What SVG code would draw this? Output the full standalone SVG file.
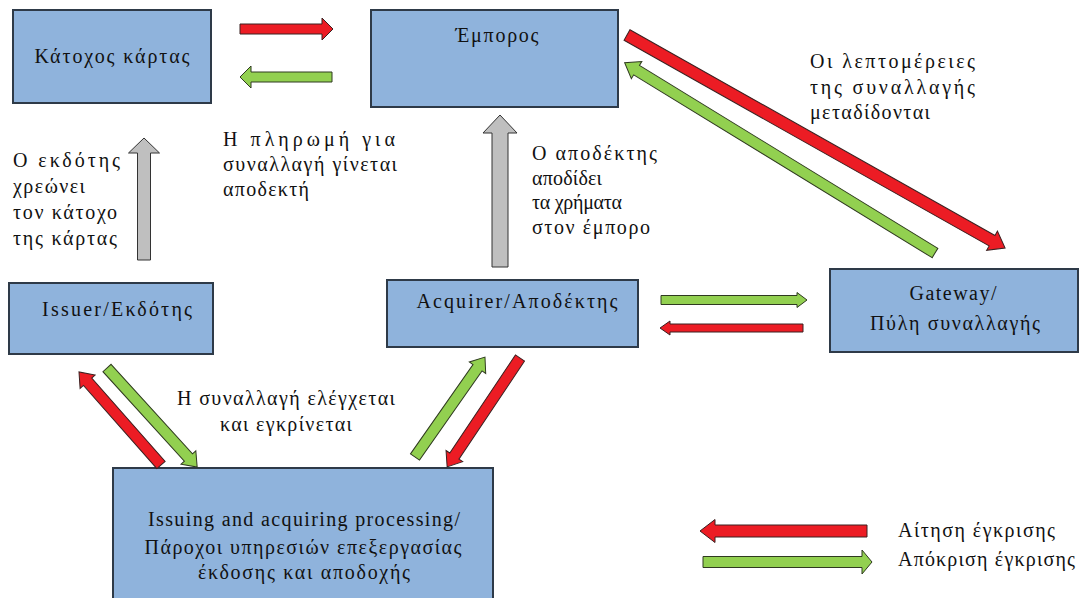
<svg xmlns="http://www.w3.org/2000/svg" width="1082" height="598" viewBox="0 0 1082 598">
<style>
.box{fill:#8FB3DC;stroke:#2E3A48;stroke-width:2}
.t{font-family:"Liberation Serif","DejaVu Serif",serif;font-size:20px;fill:#111}
.m{text-anchor:middle}
.red{fill:#EC1C24;stroke:#3A2020;stroke-width:1}
.grn{fill:#92D050;stroke:#2F3A20;stroke-width:1}
.gry{fill:#BFBFBF;stroke:#333;stroke-width:1}
</style>
<rect width="1082" height="598" fill="#fff"/>
<g id="cardholder"><rect class="box" x="13" y="10" width="198" height="93"/><text class="t m" x="112" y="63" textLength="155" lengthAdjust="spacing">Κάτοχος κάρτας</text></g>
<g id="merchant"><rect class="box" x="371" y="10" width="247" height="97"/><text class="t m" x="497" y="42" textLength="83" lengthAdjust="spacing">Έμπορος</text></g>
<g id="issuer"><rect class="box" x="9" y="283" width="204" height="71"/><text class="t m" x="117" y="316" textLength="150" lengthAdjust="spacing">Issuer/Εκδότης</text></g>
<g id="acquirer"><rect class="box" x="387" y="280" width="251" height="67"/><text class="t m" x="517" y="308" textLength="201" lengthAdjust="spacing">Acquirer/Αποδέκτης</text></g>
<g id="gateway"><rect class="box" x="830" y="269" width="248" height="83"/><text class="t m" x="953" y="300" textLength="87" lengthAdjust="spacing">Gateway/</text><text class="t m" x="955" y="330" textLength="170" lengthAdjust="spacing">Πύλη συναλλαγής</text></g>
<g id="processing"><rect class="box" x="113" y="468" width="380" height="134"/><text class="t m" x="304" y="526" textLength="312" lengthAdjust="spacing">Issuing and acquiring processing/</text><text class="t m" x="303" y="554" textLength="317" lengthAdjust="spacing">Πάροχοι υπηρεσιών επεξεργασίας</text><text class="t m" x="304" y="579" textLength="212" lengthAdjust="spacing">έκδοσης και αποδοχής</text></g>
<g id="labels">
<text class="t" x="13" y="167" textLength="107" lengthAdjust="spacing">Ο εκδότης</text>
<text class="t" x="13" y="193" textLength="72" lengthAdjust="spacing">χρεώνει</text>
<text class="t" x="13" y="219" textLength="104" lengthAdjust="spacing">τον κάτοχο</text>
<text class="t" x="13" y="245" textLength="104" lengthAdjust="spacing">της κάρτας</text>
<text class="t" x="223" y="146" textLength="172" lengthAdjust="spacing">Η πληρωμή για</text>
<text class="t" x="223" y="171" textLength="174" lengthAdjust="spacing">συναλλαγή γίνεται</text>
<text class="t" x="223" y="196" textLength="86" lengthAdjust="spacing">αποδεκτή</text>
<text class="t" x="532" y="160" textLength="125" lengthAdjust="spacing">Ο αποδέκτης</text>
<text class="t" x="532" y="185" textLength="70" lengthAdjust="spacing">αποδίδει</text>
<text class="t" x="532" y="209" textLength="90" lengthAdjust="spacing">τα χρήματα</text>
<text class="t" x="532" y="234" textLength="118" lengthAdjust="spacing">στον έμπορο</text>
<text class="t" x="810" y="68" textLength="165" lengthAdjust="spacing">Οι λεπτομέρειες</text>
<text class="t" x="810" y="94" textLength="165" lengthAdjust="spacing">της συναλλαγής</text>
<text class="t" x="810" y="119" textLength="120" lengthAdjust="spacing">μεταδίδονται</text>
<text class="t m" x="286" y="405" textLength="218" lengthAdjust="spacing">Η συναλλαγή ελέγχεται</text>
<text class="t m" x="286" y="431" textLength="132" lengthAdjust="spacing">και εγκρίνεται</text>
<text class="t" x="898" y="537" textLength="157" lengthAdjust="spacing">Αίτηση έγκρισης</text>
<text class="t" x="898" y="566" textLength="177" lengthAdjust="spacing">Απόκριση έγκρισης</text>
</g>
<g id="connectors">
<polygon class="red" transform="translate(240,29)" points="0,-5 82,-5 82,-11 93,0 82,11 82,5 0,5"/>
<polygon class="grn" transform="translate(332,77) rotate(180)" points="0,-5 81,-5 81,-11 92,0 81,11 81,5 0,5"/>
<polygon class="gry" transform="translate(144,260) rotate(-90)" points="0,-6.5 107,-6.5 107,-15.5 122,0 107,15.5 107,6.5 0,6.5"/>
<polygon class="gry" transform="translate(500,267) rotate(-90)" points="0,-8 134,-8 134,-17 152,0 134,17 134,8 0,8"/>
<polygon class="red" transform="translate(627,35) rotate(29.4)" points="0,-6 419,-6 419,-11 434,0 419,11 419,6 0,6"/>
<polygon class="grn" transform="translate(935,253) rotate(211.5)" points="0,-5.5 350,-5.5 350,-10 364,0 350,10 350,5.5 0,5.5"/>
<polygon class="grn" transform="translate(661,300)" points="0,-4.5 136,-4.5 136,-7.5 146,0 136,7.5 136,4.5 0,4.5"/>
<polygon class="red" transform="translate(803,328) rotate(180)" points="0,-4 133,-4 133,-7 143,0 133,7 133,4 0,4"/>
<polygon class="red" transform="translate(161,465) rotate(228.6)" points="0,-5.5 111,-5.5 111,-10 124,0 111,10 111,5.5 0,5.5"/>
<polygon class="grn" transform="translate(107,368) rotate(47.7)" points="0,-5.5 121,-5.5 121,-10 134,0 121,10 121,5.5 0,5.5"/>
<polygon class="grn" transform="translate(415,457) rotate(-55)" points="0,-5.5 109,-5.5 109,-10 122,0 109,10 109,5.5 0,5.5"/>
<polygon class="red" transform="translate(520,358) rotate(123.8)" points="0,-5.5 118,-5.5 118,-10 131,0 118,10 118,5.5 0,5.5"/>
<polygon class="red" transform="translate(867,531) rotate(180)" points="0,-6 152,-6 152,-11.5 167,0 152,11.5 152,6 0,6"/>
<polygon class="grn" transform="translate(703,562)" points="0,-5.5 159,-5.5 159,-12 169,0 159,12 159,5.5 0,5.5"/>
</g>
</svg>
